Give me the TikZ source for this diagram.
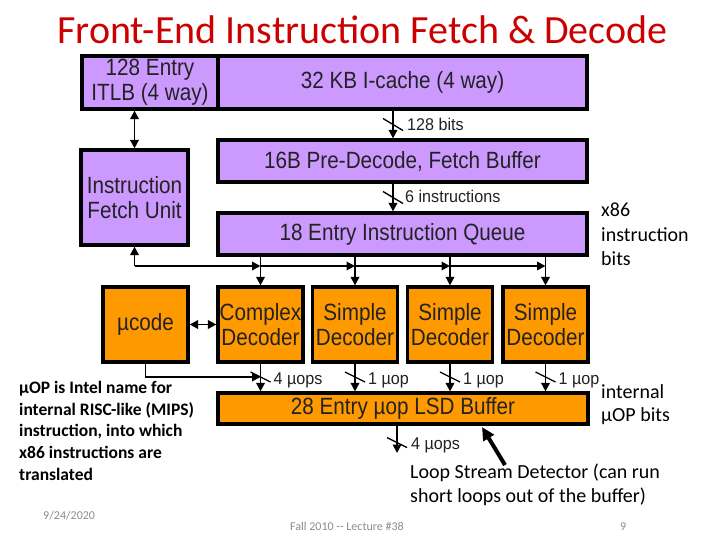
\documentclass[tikz,border=0pt]{standalone}
\usepackage{fontspec}
\setmainfont{Carlito}
\newfontfamily\boxfont[FakeStretch=0.88]{Liberation Sans}
\newfontfamily\lblfont[FakeStretch=0.95]{Liberation Sans}
\usetikzlibrary{arrows.meta,calc}
\definecolor{purp}{HTML}{CC99FF}
\definecolor{orng}{HTML}{FF9900}
\definecolor{ttlred}{HTML}{CC0000}
\definecolor{boxtxt}{HTML}{222222}
\definecolor{footgray}{HTML}{8C8C8C}
\begin{document}
\begin{tikzpicture}[x=1pt,y=-1pt,
  blk/.style={draw=black,line width=3.2pt,inner sep=0pt,text=boxtxt,font=\boxfont\fontsize{23.5}{25}\selectfont,align=center},
  pbox/.style={blk,fill=purp},
  obox/.style={blk,fill=orng},
  arr/.style={line width=1.8pt,-{Triangle[length=8.5pt,width=8.5pt]}},
  darr/.style={line width=1.8pt,{Triangle[length=8.5pt,width=8.5pt]}-{Triangle[length=8.5pt,width=8.5pt]}},
  slashln/.style={line width=1.3pt},
  lbl/.style={font=\lblfont\fontsize{17}{18}\selectfont,text=boxtxt,inner sep=0pt,anchor=base west},
  note/.style={font=\fontsize{20}{24}\selectfont,inner sep=0pt,anchor=base west},
  lnote/.style={font=\bfseries\fontsize{17.5}{21}\selectfont,inner sep=0pt,anchor=base west},
  foot/.style={font=\fontsize{12}{14}\selectfont,text=footgray,inner sep=0pt,anchor=base west},
  ttl/.style={font=\fontsize{40}{48}\selectfont,text=ttlred,inner sep=0pt,anchor=base}
]
\useasboundingbox (0,0) rectangle (720,540);
\fill[white] (0,0) rectangle (720,540);

\node[ttl] (title) at (362.5,44) {Front-End Instruction Fetch \& Decode};

% boxes
\node[pbox,minimum width=136pt,minimum height=53pt] (itlb) at (150,82.5) {128 Entry\\ITLB (4 way)};
\node[pbox,minimum width=369pt,minimum height=53pt] (icache) at (402.5,82.5) {32 KB I-cache (4 way)};
\node[pbox,minimum width=369pt,minimum height=42pt] (predec) at (402.5,161) {16B Pre-Decode, Fetch Buffer};
\node[pbox,minimum width=107pt,minimum height=95pt] (ifu) at (134.5,197.5) {Instruction\\Fetch Unit};
\node[pbox,minimum width=369pt,minimum height=42pt] (iq) at (402.5,234) {18 Entry Instruction Queue};
\node[obox,minimum width=85pt,minimum height=75pt] (ucode) at (145.5,324.5) {µcode};
\node[obox,minimum width=85pt,minimum height=75pt] (cdec) at (260.5,324.5) {Complex\\Decoder};
\node[obox,minimum width=85pt,minimum height=75pt] (sdec1) at (355,324.5) {Simple\\Decoder};
\node[obox,minimum width=85pt,minimum height=75pt] (sdec2) at (450,324.5) {Simple\\Decoder};
\node[obox,minimum width=85pt,minimum height=75pt] (sdec3) at (545.5,324.5) {Simple\\Decoder};
\node[obox,minimum width=370pt,minimum height=31pt] (lsd) at (403,408.5) {28 Entry µop LSD Buffer};

% helper coordinates
\coordinate (xa) at (393,0);
\coordinate (busy) at (0,266);
\coordinate (lowy) at (0,377);
\coordinate (lsdout) at (397,453);
\coordinate (bigtail) at (505,465);
\coordinate (bighead) at (482,427);

% ITLB <-> IFU
\draw[darr] (itlb.south -| ifu.north) -- (ifu.north);

% I-cache -> predecode -> IQ
\draw[arr] (icache.south -| xa) -- (predec.north -| xa);
\coordinate (s1) at ($(icache.south -| xa)!0.5!(predec.north -| xa)$);
\draw[slashln] ($(s1)+(-10,-6)$) -- ($(s1)+(10,6)$);
\node[lbl] (l1) at ($(s1)+(14,6.5)$) {128 bits};

\draw[arr] (predec.south -| xa) -- (iq.north -| xa);
\coordinate (s2) at ($(predec.south -| xa)!0.5!(iq.north -| xa)$);
\draw[slashln] ($(s2)+(-10,-6)$) -- ($(s2)+(10,6)$);
\node[lbl] (l2) at ($(s2)+(12,5.5)$) {6 instructions};

% bus from IFU
\draw[arr] (ifu.south |- busy) -- (ifu.south);
\draw[arr] (ifu.south |- busy) -- (cdec.north |- busy);
\draw[arr] (cdec.north |- busy) -- (sdec1.north |- busy);
\draw[arr] (sdec1.north |- busy) -- (sdec2.north |- busy);
\draw[arr] (sdec2.north |- busy) -- (sdec3.north |- busy);

% IQ -> decoders
\foreach \d in {cdec,sdec1,sdec2,sdec3}{
  \draw[arr] (iq.south -| \d.north) -- (\d.north);
}

% ucode <-> complex
\draw[darr] (ucode.east) -- (cdec.west);

% ucode -> complex output
\draw[arr] (ucode.south) |- (cdec.south |- lowy);

% decoders -> LSD
\foreach \d/\t in {cdec/4 µops,sdec1/1 µop,sdec2/1 µop,sdec3/1 µop}{
  \draw[arr] (\d.south) -- (lsd.north -| \d.south);
  \draw[slashln] ($(\d.south |- lowy)+(-10,-5)$) -- ($(\d.south |- lowy)+(10,5)$);
  \node[lbl] (lab\d) at ($(\d.south |- lowy)+(13,7)$) {\t};
}

% LSD output
\draw[arr] (lsd.south -| lsdout) -- (lsdout);
\coordinate (s3) at ($(lsd.south -| lsdout)+(0,17)$);
\draw[slashln] ($(s3)+(-10,-5)$) -- ($(s3)+(10,5)$);
\node[lbl] (l3) at ($(s3)+(14,6.5)$) {4 µops};

% big pointer arrow
\draw[line width=4pt,-{Triangle[length=13pt,width=12pt]}] (bigtail) -- (bighead);

% notes
\node[note] (x86a) at (601,217) {x86};
\node[note] (x86b) at (601,241) {instruction};
\node[note] (x86c) at (601,265) {bits};
\node[note] (int1) at (601,398) {internal};
\node[note] (int2) at (601,421) {µOP bits};
\node[note] (loop1) at (410,478) {Loop Stream Detector (can run};
\node[note] (loop2) at (410,502) {short loops out of the buffer)};

\node[lnote] (m1) at (19,393) {µOP is Intel name for};
\node[lnote] (m2) at (19,415) {internal RISC-like (MIPS)};
\node[lnote] (m3) at (19,436) {instruction, into which};
\node[lnote] (m4) at (19,458) {x86 instructions are};
\node[lnote] (m5) at (19,480) {translated};

% footer
\node[foot] (date) at (43,519) {9/24/2020};
\node[foot] (course) at (290,530) {Fall 2010 -{}- Lecture \#38};
\node[foot] (page) at (620,530) {9};
\end{tikzpicture}
\end{document}
